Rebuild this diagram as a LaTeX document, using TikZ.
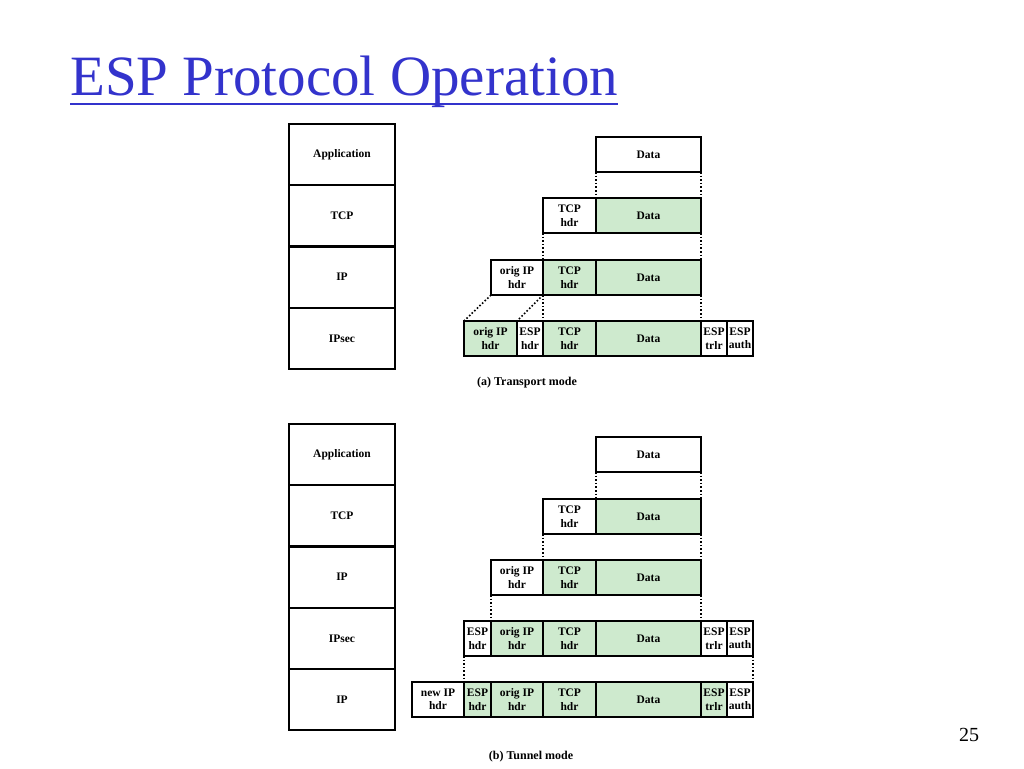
\documentclass[tikz,border=0pt]{standalone}
\usepackage{fontspec}
\setmainfont{Liberation Serif}
\usetikzlibrary{positioning}
\definecolor{titleblue}{RGB}{51,51,204}
\definecolor{pktgreen}{RGB}{206,234,206}

\begin{document}
\begin{tikzpicture}[x=1pt,y=-1pt,
  layer/.style={draw,line width=2.4pt,minimum width=106pt,minimum height=61.25pt,inner sep=0pt,outer sep=0pt,anchor=north west,font=\fontsize{11.5}{14}\selectfont\bfseries},
  pkt/.style={draw,line width=2pt,minimum height=35pt,inner sep=0pt,outer sep=0pt,anchor=north west,align=center,font=\fontsize{11.5}{13.5}\selectfont\bfseries},
  grn/.style={pkt,fill=pktgreen},
  link/.style={dotted,line width=1.6pt},
  caption/.style={font=\fontsize{12}{14}\selectfont\bfseries}]
\useasboundingbox (0,0) rectangle (1024,768);

% title
\node[anchor=base west,inner sep=0pt,text=titleblue,font=\fontsize{57}{62}\selectfont] (title) at (70,95) {ESP Protocol Operation};
\draw[titleblue,line width=2.5pt] ([yshift=-9pt]title.base west) -- ([yshift=-9pt]title.base east);

% (a) transport mode
\node[layer] (a-app) at (289,124) {Application};
\node[layer] (a-tcp) at (289,185.25) {TCP};
\node[layer] (a-ip) at (289,246.5) {IP};
\node[layer] (a-ipsec) at (289,307.75) {IPsec};

\node[pkt,minimum width=105pt] (a-data) at (596,137) {Data};

\node[pkt,minimum width=53pt] (a-thdr) at (543,198) {TCP\\hdr};
\node[grn,minimum width=105pt] (a-tdata) at (596,198) {Data};

\node[pkt,minimum width=52pt] (a-iorig) at (491,260) {orig IP\\hdr};
\node[grn,minimum width=53pt] (a-itcp) at (543,260) {TCP\\hdr};
\node[grn,minimum width=105pt] (a-idata) at (596,260) {Data};

\node[grn,minimum width=53pt] (a-sorig) at (464,321) {orig IP\\hdr};
\node[pkt,minimum width=26pt] (a-sesp) at (517,321) {ESP\\hdr};
\node[grn,minimum width=53pt] (a-stcp) at (543,321) {TCP\\hdr};
\node[grn,minimum width=105pt] (a-sdata) at (596,321) {Data};
\node[pkt,minimum width=26pt] (a-strlr) at (701,321) {ESP\\trlr};
\node[pkt,minimum width=26pt] (a-sauth) at (727,321) {ESP\\auth};

\draw[link] (a-data.south west) -- (a-tdata.north west);
\draw[link] (a-data.south east) -- (a-tdata.north east);
\draw[link] (a-thdr.south west) -- (a-itcp.north west);
\draw[link] (a-tdata.south east) -- (a-idata.north east);
\draw[link] (a-iorig.south west) -- (a-sorig.north west);
\draw[link] (a-iorig.south east) -- (a-sesp.north west);
\draw[link] (a-itcp.south west) -- (a-stcp.north west);
\draw[link] (a-idata.south east) -- (a-sdata.north east);

\node[caption] (a-cap) at (527,383) {(a) Transport mode};

% (b) tunnel mode
\node[layer] (b-app) at (289,424) {Application};
\node[layer] (b-tcp) at (289,485.25) {TCP};
\node[layer] (b-ip) at (289,546.5) {IP};
\node[layer] (b-ipsec) at (289,607.75) {IPsec};
\node[layer] (b-ip2) at (289,669) {IP};

\node[pkt,minimum width=105pt] (b-data) at (596,437) {Data};

\node[pkt,minimum width=53pt] (b-thdr) at (543,499) {TCP\\hdr};
\node[grn,minimum width=105pt] (b-tdata) at (596,499) {Data};

\node[pkt,minimum width=52pt] (b-iorig) at (491,560) {orig IP\\hdr};
\node[grn,minimum width=53pt] (b-itcp) at (543,560) {TCP\\hdr};
\node[grn,minimum width=105pt] (b-idata) at (596,560) {Data};

\node[pkt,minimum width=27pt] (b-sesp) at (464,621) {ESP\\hdr};
\node[grn,minimum width=52pt] (b-sorig) at (491,621) {orig IP\\hdr};
\node[grn,minimum width=53pt] (b-stcp) at (543,621) {TCP\\hdr};
\node[grn,minimum width=105pt] (b-sdata) at (596,621) {Data};
\node[pkt,minimum width=26pt] (b-strlr) at (701,621) {ESP\\trlr};
\node[pkt,minimum width=26pt] (b-sauth) at (727,621) {ESP\\auth};

\node[pkt,minimum width=52pt] (b-nnew) at (412,682) {new IP\\hdr};
\node[grn,minimum width=27pt] (b-nesp) at (464,682) {ESP\\hdr};
\node[grn,minimum width=52pt] (b-norig) at (491,682) {orig IP\\hdr};
\node[grn,minimum width=53pt] (b-ntcp) at (543,682) {TCP\\hdr};
\node[grn,minimum width=105pt] (b-ndata) at (596,682) {Data};
\node[grn,minimum width=26pt] (b-ntrlr) at (701,682) {ESP\\trlr};
\node[pkt,minimum width=26pt] (b-nauth) at (727,682) {ESP\\auth};

\draw[link] (b-data.south west) -- (b-tdata.north west);
\draw[link] (b-data.south east) -- (b-tdata.north east);
\draw[link] (b-thdr.south west) -- (b-itcp.north west);
\draw[link] (b-tdata.south east) -- (b-idata.north east);
\draw[link] (b-iorig.south west) -- (b-sorig.north west);
\draw[link] (b-idata.south east) -- (b-sdata.north east);
\draw[link] (b-sesp.south west) -- (b-nesp.north west);
\draw[link] (b-sauth.south east) -- (b-nauth.north east);

\node[caption] (b-cap) at (531,757) {(b) Tunnel mode};

% page number
\node[anchor=base,inner sep=0pt,font=\fontsize{20}{24}\selectfont] (pageno) at (969,741) {25};
\end{tikzpicture}
\end{document}
